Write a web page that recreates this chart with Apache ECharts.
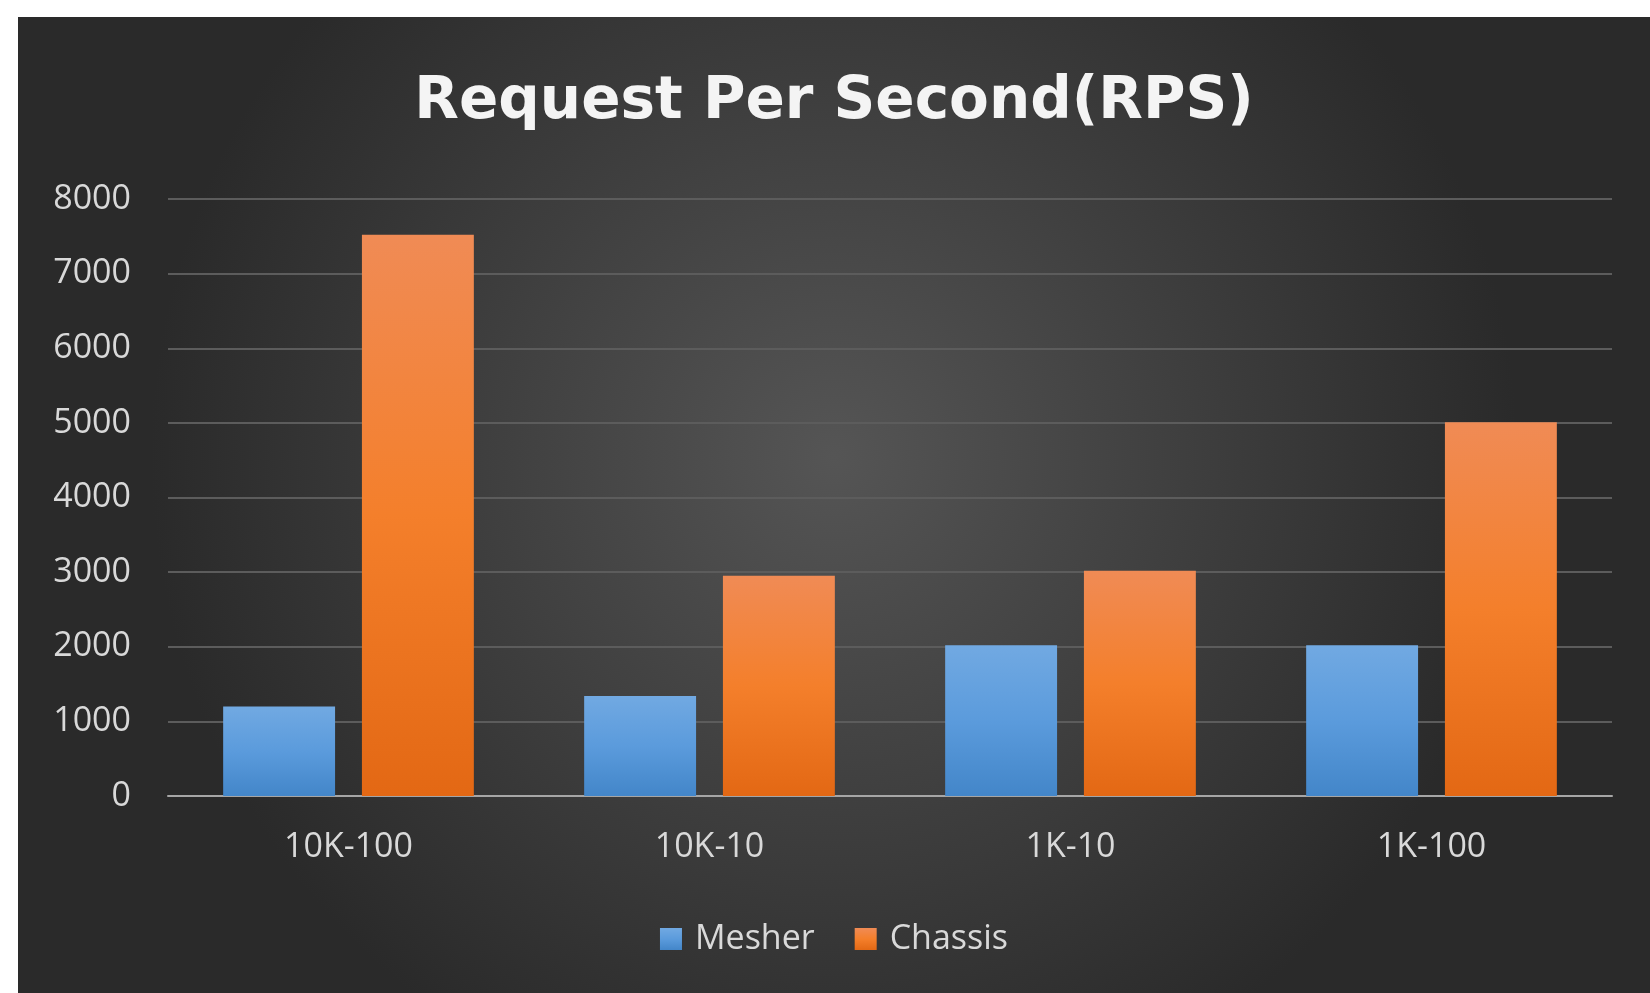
<!DOCTYPE html>
<html>
<head>
<meta charset="utf-8">
<script src="https://cdn.jsdelivr.net/npm/echarts@6/dist/echarts.min.js"></script>
<style>
  html, body { margin: 0; padding: 0; background: #fff; }
  #main { position: absolute; left: 18px; top: 17px; width: 1632px; height: 976px; }
</style>
</head>
<body>
<div id="main"></div>
<script>
const categories = ['10K-100', '10K-10', '1K-10', '1K-100'];
const mesher = [1200, 1340, 2020, 2020];
const chassis = [7520, 2950, 3020, 5010];
const yTicks = [0, 1000, 2000, 3000, 4000, 5000, 6000, 7000, 8000];

const chart = echarts.init(document.getElementById('main'));

const font = '"Open Sans", "DejaVu Sans", sans-serif';

function vGrad(top, mid, bottom) {
    return new echarts.graphic.LinearGradient(0, 0, 0, 1, [
        { offset: 0, color: top },
        { offset: 0.5, color: mid },
        { offset: 1, color: bottom }
    ]);
}

chart.setOption({
    backgroundColor: new echarts.graphic.RadialGradient(0.5, 0.45, 0.7, [
        { offset: 0, color: '#555555' },
        { offset: 1, color: '#2a2a2a' }
    ]),
    title: {
        text: 'Request Per Second(RPS)',
        left: 'center',
        top: 52,
        textStyle: {
            color: '#f4f4f4',
            fontFamily: '"DejaVu Sans", sans-serif',
            fontWeight: 'bold',
            fontSize: 58
        }
    },
    legend: {
        data: ['Mesher', 'Chassis'],
        bottom: 32,
        left: 'center',
        icon: 'rect',
        itemWidth: 22,
        itemHeight: 22,
        itemGap: 40,
        textStyle: { color: '#d9d9d9', fontFamily: font, fontSize: 34, padding: [0, 0, 0, 8] }
    },
    grid: { left: 150, right: 38, top: 182, bottom: 197 },
    xAxis: {
        type: 'category',
        data: categories,
        axisTick: { show: false },
        axisLine: { lineStyle: { color: '#a6a6a6', width: 2 } },
        axisLabel: { color: '#d9d9d9', fontFamily: font, fontSize: 34, margin: 34 }
    },
    yAxis: {
        type: 'value',
        min: yTicks[0],
        max: yTicks[yTicks.length - 1],
        interval: 1000,
        axisLine: { show: false },
        axisTick: { show: false },
        splitLine: { lineStyle: { color: '#5c5c5c', width: 2 } },
        axisLabel: {
            color: '#d9d9d9', fontFamily: font, fontSize: 34, margin: 37,
            formatter: v => String(v)
        }
    },
    series: [
        {
            name: 'Mesher',
            type: 'bar',
            data: mesher,
            barWidth: '31%',
            barGap: '24%',
            itemStyle: {
                color: vGrad('#71a9e2', '#5b9bdc', '#4386c9'),
                shadowColor: 'rgba(0,0,0,0.55)',
                shadowBlur: 10
            }
        },
        {
            name: 'Chassis',
            type: 'bar',
            data: chassis,
            barWidth: '31%',
            itemStyle: {
                color: vGrad('#f08b55', '#f47f2b', '#e36814'),
                shadowColor: 'rgba(0,0,0,0.55)',
                shadowBlur: 10
            }
        }
    ]
});
</script>
</body>
</html>
